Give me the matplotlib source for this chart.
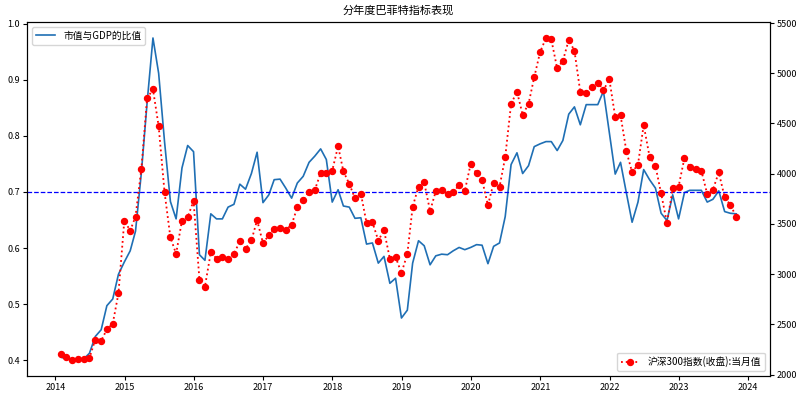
import matplotlib.pyplot as plt
import matplotlib.dates as mdates
import pandas as pd

plt.rcParams['font.family'] = ['Noto Sans CJK SC', 'DejaVu Sans']
plt.rcParams['axes.unicode_minus'] = False

months = pd.date_range('2014-01-31', periods=118, freq='ME')

# 市值与GDP的比值 (月度)
ratio = [
    0.405, 0.402, 0.400, 0.401, 0.402, 0.412, 0.442, 0.454, 0.497, 0.509, 0.553, 0.575,
    0.595, 0.630, 0.735, 0.859, 0.975, 0.912, 0.790, 0.683, 0.652, 0.743, 0.783, 0.772,
    0.588, 0.578, 0.661, 0.652, 0.652, 0.673, 0.678, 0.714, 0.705, 0.733, 0.771, 0.681,
    0.695, 0.722, 0.723, 0.707, 0.689, 0.716, 0.728, 0.753, 0.764, 0.777, 0.758, 0.682,
    0.704, 0.675, 0.673, 0.653, 0.654, 0.607, 0.609, 0.573, 0.585, 0.537, 0.546, 0.475,
    0.489, 0.573, 0.613, 0.604, 0.570, 0.586, 0.589, 0.588, 0.595, 0.601, 0.597, 0.601,
    0.606, 0.605, 0.572, 0.603, 0.609, 0.656, 0.749, 0.770, 0.733, 0.747, 0.781, 0.786,
    0.790, 0.790, 0.774, 0.792, 0.839, 0.852, 0.820, 0.856, 0.856, 0.856, 0.880, 0.806,
    0.732, 0.753, 0.698, 0.646, 0.682, 0.740, 0.722, 0.707, 0.662, 0.649, 0.695, 0.652,
    0.699, 0.703, 0.703, 0.703, 0.682, 0.687, 0.702, 0.665, 0.662, 0.661,
]

# 沪深300指数(收盘):当月值
hs300 = [
    2202, 2178, 2146, 2158, 2157, 2165, 2350, 2338, 2450, 2508, 2808, 3533,
    3434, 3572, 4051, 4749, 4841, 4473, 3816, 3366, 3203, 3534, 3566, 3731,
    2946, 2877, 3218, 3156, 3169, 3154, 3203, 3327, 3253, 3336, 3538, 3310,
    3387, 3452, 3456, 3440, 3492, 3666, 3737, 3822, 3837, 4006, 4006, 4030,
    4275, 4023, 3899, 3756, 3802, 3510, 3517, 3335, 3438, 3153, 3173, 3011,
    3202, 3670, 3872, 3913, 3629, 3826, 3835, 3799, 3815, 3887, 3829, 4097,
    4003, 3940, 3686, 3912, 3868, 4164, 4695, 4817, 4587, 4695, 4960, 5211,
    5351, 5336, 5048, 5123, 5332, 5224, 4812, 4806, 4866, 4908, 4832, 4940,
    4564, 4582, 4222, 4016, 4091, 4485, 4170, 4079, 3804, 3508, 3854, 3872,
    4157, 4069, 4051, 4030, 3798, 3842, 4013, 3765, 3690, 3573,
]

fig = plt.figure(figsize=(8, 3.98), dpi=100)
ax = fig.add_axes([0.034, 0.055, 0.9285, 0.89])
ax.plot(months, ratio, color='#1f6fb4', lw=1.2, label='市值与GDP的比值')
ax.axhline(0.7, color='b', linestyle='--', lw=0.9)
ax.legend(loc='upper left', fontsize=7)
ax.set_title('分年度巴菲特指标表现', fontsize=8)
ax.tick_params(labelsize=6.5, length=3, pad=2)
ax.xaxis.set_major_locator(mdates.YearLocator())
ax.xaxis.set_major_formatter(mdates.DateFormatter('%Y'))

ax2 = ax.twinx()
ax2.plot(months, hs300, 'r:', marker='o', markersize=4.3, lw=1.3,
         label='沪深300指数(收盘):当月值')
ax2.legend(loc='lower right', fontsize=7)
ax2.tick_params(labelsize=6.5, length=3, pad=2)

plt.savefig('out.png', dpi=100)
